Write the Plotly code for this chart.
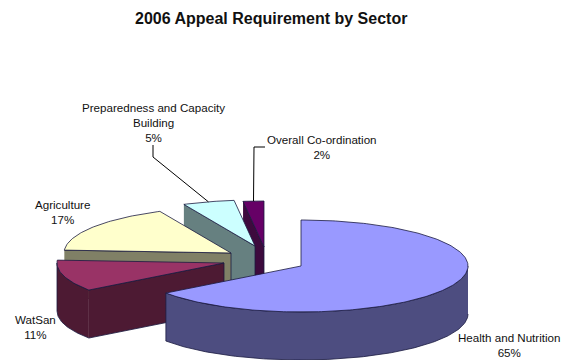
import numpy as np
import plotly.graph_objects as go

# Sector shares of the 2006 appeal, in the order they run clockwise from 12 o'clock
sectors = ["Health and Nutrition", "WatSan", "Agriculture",
           "Preparedness and Capacity Building", "Overall Co-ordination"]
shares = [65, 11, 17, 5, 2]

# Slice appearance
top_colors = ["#9999ff", "#993366", "#ffffcc", "#ccffff", "#660066"]
side_colors = ["#4d4d80", "#4d1a33", "#808066", "#668080", "#3d0a3d"]
edge_color = "#1a1a40"

# Tilted-pie geometry, measured in page pixels
RX, RY, DEPTH = 167, 46, 48
apex = {"Health and Nutrition": (301, 266), "WatSan": (224, 263), "Agriculture": (231, 253),
        "Preparedness and Capacity Building": (255, 246), "Overall Co-ordination": (264, 247)}

# Slice labels: text centre and text
labels = [
    (509, 345, "Health and Nutrition<br>65%"),
    (35, 327, "WatSan<br>11%"),
    (62, 212, "Agriculture<br>17%"),
    (153, 122, "Preparedness and Capacity<br>Building<br>5%"),
    (322, 147, "Overall Co-ordination<br>2%"),
]
TEXT_FONT = dict(family="Liberation Sans, Arial, sans-serif", size=11.6, color="#111111")


def rim(cx, cy, a0, a1):
    """Points on the top rim between two clockwise angles measured from 12 o'clock."""
    t = np.radians(np.linspace(a0, a1, max(int(abs(a1 - a0)), 2) + 1))
    return cx + RX * np.sin(t), cy - RY * np.cos(t)


def polygon(xs, ys, color, name):
    return go.Scatter(x=list(xs), y=list(ys), mode="lines", fill="toself", fillcolor=color,
                      line=dict(color=edge_color, width=0.8), name=name, hoverinfo="name",
                      showlegend=False)


fig = go.Figure()

# Cumulative angles give each slice's span
ends = np.cumsum(shares) / sum(shares) * 360
starts = np.concatenate([[0], ends[:-1]])

# Paint from the back of the pie to the front so nearer slices overlap farther ones
rim_mid = {}
for i in reversed(range(1, len(sectors))):
    name = sectors[i]
    cx, cy = apex[name]
    a0, a1 = starts[i], ends[i]
    rx, ry = rim(cx, cy, a0, a1)
    mid = np.radians((a0 + a1) / 2)
    rim_mid[name] = (cx + RX * np.sin(mid), cy - RY * np.cos(mid))
    # radial wall on the leading edge
    fig.add_trace(polygon([rx[0], cx, cx, rx[0]], [ry[0], cy, cy + DEPTH, ry[0] + DEPTH],
                          side_colors[i], name))
    # outer wall, only where the rim faces the viewer
    if a0 < 270:
        wx, wy = rim(cx, cy, a0, 270)
        fig.add_trace(polygon(np.r_[wx, wx[::-1]], np.r_[wy, wy[::-1] + DEPTH], side_colors[i], name))
    fig.add_trace(polygon(np.r_[cx, rx, cx], np.r_[cy, ry, cy], top_colors[i], name))

# Largest slice sits in front of everything else
name = sectors[0]
cx, cy = apex[name]
rx, ry = rim(cx, cy, starts[0], ends[0])
wx, wy = rim(cx, cy, 90, ends[0])
fig.add_trace(polygon(np.r_[wx, wx[::-1]], np.r_[wy, wy[::-1] + DEPTH], side_colors[0], name))
fig.add_trace(polygon(np.r_[cx, rx, cx], np.r_[cy, ry, cy], top_colors[0], name))

# Leader lines from the two upper labels to their slices
elbows = {"Preparedness and Capacity Building": [(153, 145), (153, 157)],
          "Overall Co-ordination": [(265, 147), (254, 147)]}
for name, pts in elbows.items():
    mx, my = rim_mid[name]
    fig.add_trace(go.Scatter(x=[p[0] for p in pts] + [mx], y=[p[1] for p in pts] + [my],
                             mode="lines", line=dict(color="#000000", width=1),
                             hoverinfo="skip", showlegend=False))

for x, y, text in labels:
    fig.add_annotation(x=x, y=y, text=text, showarrow=False, font=TEXT_FONT,
                       xanchor="center", yanchor="middle", align="center")

fig.add_annotation(x=271, y=18, text="<b>2006 Appeal Requirement by Sector</b>", showarrow=False,
                   font=dict(family="Liberation Sans, Arial, sans-serif", size=16, color="#111111"),
                   xanchor="center", yanchor="middle")

fig.update_layout(width=566, height=360, margin=dict(l=0, r=0, t=0, b=0),
                  paper_bgcolor="white", plot_bgcolor="white",
                  xaxis=dict(range=[0, 566], visible=False, fixedrange=True),
                  yaxis=dict(range=[360, 0], visible=False, fixedrange=True))

fig.write_html("out.html", config={"displayModeBar": False})
